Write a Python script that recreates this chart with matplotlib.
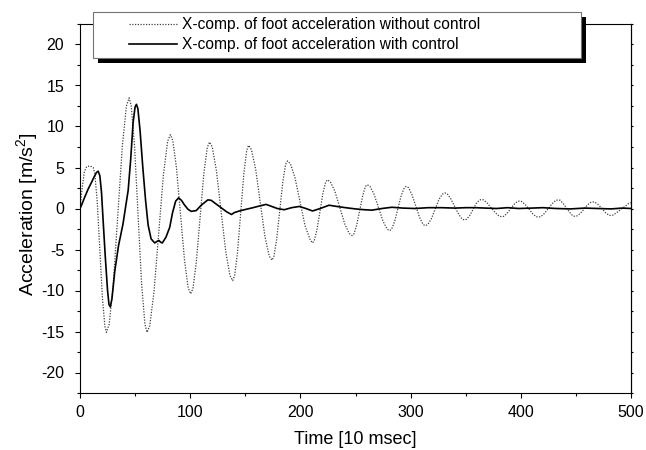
import numpy as np
import matplotlib
matplotlib.use("Agg")
import matplotlib.pyplot as plt
from matplotlib.patches import Rectangle
from matplotlib.ticker import MultipleLocator

plt.rcParams['font.family'] = ['Liberation Sans', 'DejaVu Sans']
plt.rcParams['mathtext.fontset'] = 'custom'
plt.rcParams['mathtext.rm'] = 'Liberation Sans'
plt.rcParams['mathtext.it'] = 'Liberation Sans:italic'
plt.rcParams['axes.unicode_minus'] = False

# x-component of foot acceleration, without control
t_free = [0, 2, 4, 6, 9, 12,
          13.4, 15.6, 18, 20.4, 22.6, 24,
          26.5, 30.2, 34.3, 38.4, 42.1, 44.6,
          46.5, 49.5, 52.7, 55.9, 58.9, 60.8,
          63.3, 67.2, 71.4, 75.6, 79.5, 82,
          84.2, 87.5, 91.2, 94.9, 98.2, 100.4,
          102.5, 105.5, 109, 112.4, 115.5, 117.5,
          120, 123.8, 128, 132.3, 136.1, 138.6,
          140.3, 142.9, 145.8, 148.7, 151.3, 153,
          155.5, 159.4, 163.6, 167.8, 171.7, 174.2,
          175.9, 178.4, 181.3, 184.1, 186.6, 188.3,
          191, 195.1, 199.7, 204.2, 209, 211,
          212.6, 215, 217.8, 220.5, 222.9, 224.5,
          227.2, 231.3, 235.8, 240.3, 244.3, 247,
          248.6, 251.1, 253.9, 256.6, 259.1, 260.7,
          263.1, 266.8, 270.9, 275, 278.6, 281,
          282.8, 285.5, 288.5, 291.5, 294.2, 296,
          298.1, 301.2, 304.7, 308.2, 311.3, 313.4,
          315.5, 318.7, 322.2, 325.7, 328.9, 331,
          333.2, 336.4, 340, 343.6, 346.8, 349,
          350.8, 353.5, 356.5, 359.5, 362.2, 364,
          366.2, 369.6, 373.4, 377.1, 380.5, 382.7,
          384.6, 387.5, 390.7, 393.9, 396.8, 398.7,
          400.8, 403.9, 407.4, 410.8, 413.9, 416,
          418.2, 421.4, 425, 428.6, 431.8, 434,
          435.8, 438.5, 441.5, 444.5, 447.2, 449,
          451, 454, 457.3, 460.6, 463.6, 465.6,
          467.5, 470.4, 473.6, 476.8, 479.7, 481.6,
          483.8, 487.1, 490.8, 494.5, 497.8, 500]
a_free = [0, 2.5, 4.5, 5.1, 5.2, 5.0,
          4.3, 0.9, -5.1, -11.0, -14.4, -15.1,
          -14.1, -9.2, -0.8, 7.6, 12.5, 13.5,
          12.5, 7.6, -0.8, -9.2, -14.1, -15.1,
          -14.3, -10.1, -3.0, 4.0, 8.2, 9.0,
          8.3, 5.0, -0.7, -6.4, -9.7, -10.4,
          -9.75, -6.6, -1.15, 4.3, 7.45, 8.1,
          7.5, 4.6, -0.35, -5.3, -8.2, -8.8,
          -8.2, -5.4, -0.55, 4.3, 7.1, 7.7,
          7.2, 4.8, 0.7, -3.4, -5.8, -6.3,
          -5.9, -3.8, -0.25, 3.3, 5.4, 5.8,
          5.45, 3.75, 0.8, -2.1, -3.85, -4.2,
          -3.9, -2.6, -0.35, 1.9, 3.2, 3.5,
          3.25, 2.1, 0.1, -1.9, -3.05, -3.3,
          -3.1, -2.0, -0.2, 1.6, 2.7, 2.9,
          2.7, 1.75, 0.1, -1.55, -2.5, -2.7,
          -2.5, -1.6, 0.0, 1.6, 2.5, 2.7,
          2.55, 1.7, 0.3, -1.1, -1.95, -2.1,
          -1.95, -1.3, -0.1, 1.1, 1.75, 1.9,
          1.8, 1.2, 0.25, -0.7, -1.3, -1.4,
          -1.3, -0.9, -0.15, 0.6, 1.0, 1.1,
          1.05, 0.65, 0.05, -0.55, -0.95, -1.0,
          -0.95, -0.6, -0.05, 0.5, 0.85, 0.9,
          0.85, 0.5, -0.05, -0.65, -1.0, -1.05,
          -1.0, -0.6, 0.0, 0.6, 1.0, 1.05,
          1.0, 0.6, 0.05, -0.5, -0.9, -0.95,
          -0.9, -0.6, -0.1, 0.45, 0.75, 0.8,
          0.75, 0.45, 0.0, -0.5, -0.8, -0.85,
          -0.8, -0.5, -0.1, 0.25, 0.6, 0.7]

# x-component of foot acceleration, with control
t_ctrl = [0, 2, 4, 7.5, 10.5, 13, 15, 16.5, 18, 19.5, 21, 23, 25, 26.3, 27.5, 29,
          31.6, 35, 39, 41.5, 43.7, 46, 48.2, 50, 51.2, 52.5, 54.5, 57, 59.5, 61.8,
          64.5, 67.8, 70, 71.7, 73, 74.7, 78, 81.4, 84, 86.8, 89.5, 92, 95, 98, 101,
          105.5, 110, 116, 119, 123, 128, 133, 137.5, 140, 144.7, 150.7, 157, 162.7,
          168.8, 173, 179, 185.3, 192, 199, 205, 211, 218, 226, 233, 241, 250, 258,
          265, 274, 283, 293, 304, 316, 328, 340, 350, 358.6, 368, 378, 388, 398,
          410, 420, 432, 445, 458, 470, 482, 492, 500]
a_ctrl = [0, 0.6, 1.3, 2.4, 3.2, 3.9, 4.4, 4.55, 4.0, 2.0, -1.5, -6, -10, -11.7, -12.0, -11.0,
          -7.6, -4.5, -1.9, 0.3, 2.2, 6, 10.5, 12.4, 12.7, 12.2, 9.5, 5.0, 1.0, -2.0,
          -3.7, -4.2, -4.0, -3.9, -4.1, -4.2, -3.5, -2.3, -0.5, 0.9, 1.3, 1.0, 0.4, -0.1, -0.35,
          -0.25, 0.4, 1.05, 1.0, 0.6, 0.1, -0.4, -0.73, -0.5, -0.3, -0.1, 0.1, 0.3,
          0.5, 0.3, 0.0, -0.15, 0.1, 0.25, 0.0, -0.3, 0.0, 0.4, 0.25, 0.1, -0.05, -0.15,
          -0.2, 0.0, 0.15, 0.05, 0.0, 0.1, 0.1, 0.05, 0.1, 0.1, 0.05, 0.0, 0.1, 0.0,
          0.05, 0.1, 0.0, -0.05, 0.05, 0.0, -0.05, 0.05, 0.0]

labels = ['X-comp. of foot acceleration without control',
          'X-comp. of foot acceleration with control']

W, H = 646, 450
fig = plt.figure(figsize=(W / 100, H / 100), dpi=100)
ax = fig.add_axes([80 / W, 1 - 393 / H, (631 - 80) / W, (393 - 24) / H])

l1, = ax.plot(t_free, a_free, color='0.25', lw=0.9, linestyle=(0, (1, 1.2)))
l2, = ax.plot(t_ctrl, a_ctrl, color='k', lw=1.2)

ax.set_xlim(0, 500)
ax.set_ylim(-22.5, 22.5)
ax.xaxis.set_major_locator(MultipleLocator(100))
ax.xaxis.set_minor_locator(MultipleLocator(50))
ax.yaxis.set_major_locator(MultipleLocator(5))
ax.yaxis.set_minor_locator(MultipleLocator(2.5))
ax.tick_params(which='major', direction='out', length=3.5, width=0.8, labelsize=11.5)
ax.tick_params(which='minor', direction='out', length=2.5, width=0.8)
ax.tick_params(axis='x', pad=5)
ax.tick_params(axis='y', pad=8)
for s in ax.spines.values():
    s.set_linewidth(0.8)

sec = ax.secondary_yaxis('right')
sec.yaxis.set_major_locator(MultipleLocator(2.5))
sec.tick_params(direction='out', length=1.5, width=0.8, labelright=False)

ax.set_xlabel('Time [10 msec]', fontsize=13, labelpad=8)
ax.set_ylabel(r'Acceleration [m/s$^{2}$]', fontsize=14)
ax.yaxis.set_label_coords(-0.073, 0.485)

# legend box with a hard black drop shadow, as in the original
fig.add_artist(Rectangle((98 / W, 1 - 63 / H), 488 / W, 46 / H, transform=fig.transFigure,
                         facecolor='k', edgecolor='none', zorder=3))
fig.add_artist(Rectangle((93 / W, 1 - 58 / H), 488 / W, 46 / H, transform=fig.transFigure,
                         facecolor='white', edgecolor='0.45', lw=0.8, zorder=4))
leg = fig.legend([l1, l2], labels, loc='upper left', bbox_to_anchor=(129 / W, 1 - 17.5 / H),
                 frameon=False, fontsize=11.2, handlelength=3.08, handletextpad=0.32,
                 labelspacing=0.3, borderpad=0, borderaxespad=0)
leg.set_zorder(5)

fig.savefig('out.png', dpi=100)
